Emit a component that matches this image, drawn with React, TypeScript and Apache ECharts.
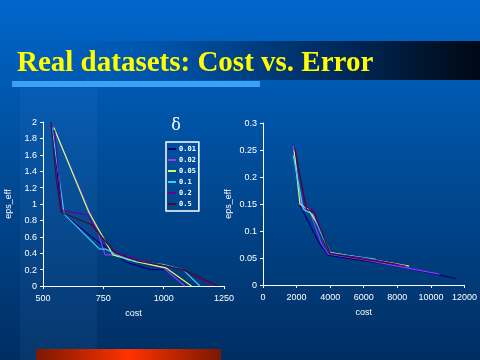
import React, { useEffect, useRef } from "react";
import * as echarts from "echarts";

const seriesNames = ["0.01", "0.02", "0.05", "0.1", "0.2", "0.5"];
const seriesColors = ["#000080", "#9933ff", "#ccff66", "#33ccff", "#660099", "#40102a"];

const leftXTicks = { min: 500, max: 1250, interval: 250 };
const leftYTicks = { min: 0, max: 2, interval: 0.2 };
const rightXTicks = { min: 0, max: 12000, interval: 2000 };
const rightYTicks = { min: 0, max: 0.3, interval: 0.05 };

const left001 = [[538, 1.95], [578, 0.9], [700, 0.6], [775, 0.44], [845, 0.29], [945, 0.2], [1010, 0.2], [1090, 0]];
const left002 = [[542, 1.95], [725, 0.68], [757, 0.38], [808, 0.38], [900, 0.3], [1000, 0.22], [1088, 0]];
const left005 = [[545, 1.93], [690, 0.9], [790, 0.38], [880, 0.3], [1010, 0.22], [1115, 0]];
const left01 = [[537, 1.94], [584, 0.95], [587, 0.88], [734, 0.45], [760, 0.45], [850, 0.32], [1000, 0.26], [1080, 0.2], [1150, 0]];
const left02 = [[548, 1.9], [578, 0.92], [684, 0.87], [740, 0.6], [807, 0.4], [900, 0.32], [1000, 0.25], [1085, 0.19], [1210, 0]];
const left05 = [[533, 2.0], [555, 1.3], [575, 0.9], [700, 0.75], [800, 0.4], [900, 0.3], [1000, 0.25], [1080, 0.2], [1225, 0]];

const right001 = [[2200, 0.148], [3300, 0.08], [3900, 0.055], [6000, 0.045], [8000, 0.035], [10000, 0.022], [11500, 0.012]];
const right002 = [[1800, 0.257], [2300, 0.145], [2800, 0.135], [3500, 0.075], [3900, 0.057], [6000, 0.047], [8000, 0.035], [10500, 0.02]];
const right005 = [[1850, 0.25], [2200, 0.15], [2700, 0.14], [3300, 0.11], [4000, 0.06], [6000, 0.05], [8700, 0.035]];
const right01 = [[1800, 0.24], [2400, 0.14], [3000, 0.13], [3400, 0.1], [4000, 0.06], [5000, 0.055], [6700, 0.048]];
const right02 = [[1900, 0.255], [2500, 0.145], [3000, 0.14], [3500, 0.1], [4000, 0.058], [6000, 0.05], [8500, 0.035]];
const right05 = [[1900, 0.25], [2600, 0.14], [3000, 0.135], [3600, 0.09], [4000, 0.058], [6000, 0.048], [8000, 0.038]];

const leftSets = [left001, left002, left005, left01, left02, left05];
const rightSets = [right001, right002, right005, right01, right02, right05];

const axisFont = { color: "#ffffff", fontSize: 9, fontFamily: "Liberation Sans, Arial, sans-serif" };

function makeAxis(t: { min: number; max: number; interval: number }, gridIndex: number, name: string, isY: boolean) {
  return {
    type: "value",
    gridIndex,
    min: t.min,
    max: t.max,
    interval: t.interval,
    name,
    nameLocation: "middle",
    nameGap: isY ? 31 : 22,
    nameTextStyle: { ...axisFont, fontSize: 9 },
    axisLine: { show: true, lineStyle: { color: "#ffffff", width: 1 } },
    axisTick: { show: true, length: 3, lineStyle: { color: "#ffffff" } },
    axisLabel: { ...axisFont, margin: isY ? 6 : 7, formatter: (v: number) => String(Math.round(v * 1000) / 1000) },
    splitLine: { show: false },
  };
}

export default function App() {
  const ref = useRef<HTMLDivElement>(null);
  useEffect(() => {
    if (!ref.current) return;
    const chart = echarts.init(ref.current, undefined, { renderer: "svg" });
    const series: any[] = [];
    [leftSets, rightSets].forEach((sets, gi) => {
      sets.forEach((d, i) => {
        series.push({
          type: "line",
          name: seriesNames[i],
          xAxisIndex: gi,
          yAxisIndex: gi,
          data: d,
          symbol: "none",
          lineStyle: { color: seriesColors[i], width: 1.2 },
          itemStyle: { color: seriesColors[i] },
          z: 5,
        });
      });
    });
    chart.setOption({
      animation: false,
      backgroundColor: "transparent",
      graphic: [
        {
          type: "rect",
          z: -10,
          silent: true,
          shape: { x: 0, y: 0, width: 480, height: 360 },
          style: {
            fill: new echarts.graphic.LinearGradient(0, 0, 0, 1, [
              { offset: 0, color: "#0066cc" },
              { offset: 0.5, color: "#004a94" },
              { offset: 1, color: "#002e62" },
            ]),
          },
        },
        {
          type: "rect",
          z: -9,
          silent: true,
          shape: { x: 20, y: 88, width: 77, height: 272 },
          style: { fill: "rgba(90,150,230,0.08)" },
        },
        {
          type: "rect",
          z: -9,
          silent: true,
          shape: { x: 0, y: 41, width: 480, height: 39 },
          style: {
            fill: new echarts.graphic.LinearGradient(0, 0, 1, 0, [
              { offset: 0, color: "rgba(0,96,192,0)" },
              { offset: 0.35, color: "#0052a6" },
              { offset: 0.7, color: "#002a5c" },
              { offset: 1, color: "#000814" },
            ]),
          },
        },
        {
          type: "rect",
          z: -8,
          silent: true,
          shape: { x: 12, y: 81, width: 248, height: 6 },
          style: { fill: "#3aa2f2" },
        },
        {
          type: "rect",
          z: -8,
          silent: true,
          shape: { x: 36, y: 349, width: 185, height: 11 },
          style: {
            fill: new echarts.graphic.LinearGradient(0, 0, 1, 0, [
              { offset: 0, color: "#7a1800" },
              { offset: 0.5, color: "#ff3300" },
              { offset: 1, color: "#7a1800" },
            ]),
          },
        },
        {
          type: "text",
          z: 1,
          x: 17,
          y: 61,
          style: {
            text: "Real datasets: Cost vs. Error",
            fill: "#ffff00",
            font: "bold 29px 'Liberation Serif', 'Times New Roman', serif",
            textVerticalAlign: "middle",
            textShadowColor: "#001030",
            textShadowOffsetX: 2,
            textShadowOffsetY: 2,
            textShadowBlur: 0,
          },
        },
        {
          type: "text",
          z: 1,
          x: 176,
          y: 124,
          style: {
            text: "δ",
            fill: "#ffffff",
            font: "16px 'DejaVu Serif', 'Liberation Serif', serif",
            textAlign: "center",
            textVerticalAlign: "middle",
          },
        },
      ],
      legend: {
        data: seriesNames,
        orient: "vertical",
        left: 166,
        top: 142,
        padding: [3, 3, 3, 2],
        itemGap: 3,
        itemWidth: 8,
        itemHeight: 2,
        icon: "rect",
        borderColor: "#ffffff",
        borderWidth: 1.5,
        textStyle: { color: "#ffffff", fontSize: 7, fontWeight: "bold", lineHeight: 8, fontFamily: "DejaVu Sans Mono, monospace", padding: [0, 0, 0, -2] },
      },
      grid: [
        { left: 43, top: 122, width: 181, height: 164 },
        { left: 263, top: 123, width: 203, height: 162 },
      ],
      xAxis: [makeAxis(leftXTicks, 0, "cost", false), makeAxis(rightXTicks, 1, "cost", false)],
      yAxis: [makeAxis(leftYTicks, 0, "eps_eff", true), makeAxis(rightYTicks, 1, "eps_eff", true)],
      series,
    });
    return () => chart.dispose();
  }, []);
  return <div ref={ref} style={{ position: "fixed", left: 0, top: 0, width: 480, height: 360 }} />;
}
